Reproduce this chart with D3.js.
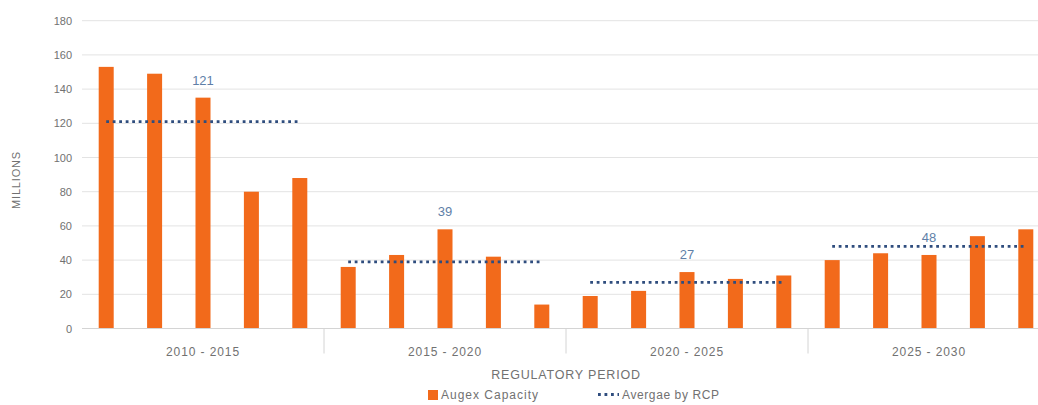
<!DOCTYPE html>
<html>
<head>
<meta charset="utf-8">
<script src="https://cdn.jsdelivr.net/npm/d3@7"></script>
<style>
  html, body { margin: 0; padding: 0; background: #ffffff; }
  svg { display: block; font-family: "Liberation Sans", "DejaVu Sans", sans-serif; }
</style>
</head>
<body>
<svg id="chart" width="1038" height="405"></svg>
<script>
// Regulatory periods (x categories)
const periods = ["2010 - 2015", "2015 - 2020", "2020 - 2025", "2025 - 2030"];
// Augex capacity, five bars per period (millions)
const augexCapacity = [
  [153, 149, 135, 80, 88],
  [36, 43, 58, 42, 14],
  [19, 22, 33, 29, 31],
  [40, 44, 43, 54, 58]
];
// Average by regulatory control period (millions)
const averageByRcp = [121, 39, 27, 48];
// Y axis ticks
const yTicks = [0, 20, 40, 60, 80, 100, 120, 140, 160, 180];

const svg = d3.select("#chart");
const plotLeft = 82, plotRight = 1050, plotTop = 20.7, plotBottom = 328.5;

const x0 = d3.scaleBand().domain(periods).range([plotLeft, plotRight]).padding(0);
const x1 = d3.scaleBand().domain(d3.range(5)).range([0, x0.bandwidth()]).paddingInner(0.69).paddingOuter(0.345);
const y = d3.scaleLinear().domain([0, 180]).range([plotBottom, plotTop]);

const orange = "#f26a1b";
const navy = "#2f4d7e";
const textGrey = "#717171";

// Horizontal gridlines
svg.append("g")
  .selectAll("line")
  .data(yTicks.filter(d => d > 0))
  .join("line")
  .attr("x1", plotLeft).attr("x2", plotRight)
  .attr("y1", d => y(d)).attr("y2", d => y(d))
  .attr("stroke", "#e3e3e3").attr("stroke-width", 1);

// Y axis labels
const yAxis = d3.axisLeft(y).tickValues(yTicks).tickSize(0).tickPadding(10);
const gy = svg.append("g").attr("transform", `translate(${plotLeft},0)`).call(yAxis);
gy.select(".domain").remove();
gy.selectAll("text")
  .attr("fill", textGrey)
  .style("font-size", "11px")
  .style("font-family", "'Liberation Sans', sans-serif");

// Bars
const groups = svg.append("g")
  .selectAll("g")
  .data(periods)
  .join("g")
  .attr("transform", d => `translate(${x0(d)},0)`);

groups.selectAll("rect")
  .data((d, i) => augexCapacity[i].map((v, j) => ({ j, v })))
  .join("rect")
  .attr("x", d => x1(d.j))
  .attr("width", x1.bandwidth())
  .attr("y", d => y(d.v))
  .attr("height", d => y(0) - y(d.v))
  .attr("fill", orange);

// Average lines spanning the bars of each period
groups.append("line")
  .attr("x1", x1(0) + x1.bandwidth() / 2)
  .attr("x2", x1(4) + x1.bandwidth() / 2)
  .attr("y1", (d, i) => y(averageByRcp[i]))
  .attr("y2", (d, i) => y(averageByRcp[i]))
  .attr("stroke", navy)
  .attr("stroke-width", 2.8)
  .attr("stroke-dasharray", "2.8 3.7");

// Average value labels, above the middle bar
groups.append("text")
  .attr("x", x1(2) + x1.bandwidth() / 2)
  .attr("y", (d, i) => y(augexCapacity[i][2]) - 13)
  .attr("text-anchor", "middle")
  .attr("fill", "#5f7fa8")
  .style("font-size", "13px")
  .text((d, i) => averageByRcp[i]);

// X axis baseline
svg.append("line")
  .attr("x1", plotLeft).attr("x2", plotRight)
  .attr("y1", plotBottom).attr("y2", plotBottom)
  .attr("stroke", "#d4d4d4").attr("stroke-width", 1);

// Period dividers
svg.append("g")
  .selectAll("line")
  .data(periods.slice(1))
  .join("line")
  .attr("x1", d => x0(d)).attr("x2", d => x0(d))
  .attr("y1", plotBottom).attr("y2", plotBottom + 25)
  .attr("stroke", "#d4d4d4").attr("stroke-width", 1);

// Period labels
svg.append("g")
  .selectAll("text")
  .data(periods)
  .join("text")
  .attr("x", d => x0(d) + x0.bandwidth() / 2)
  .attr("y", 356)
  .attr("text-anchor", "middle")
  .attr("fill", textGrey)
  .style("font-size", "12px")
  .style("letter-spacing", "0.9px")
  .text(d => d);

// Axis titles
svg.append("text")
  .attr("x", 566).attr("y", 379)
  .attr("text-anchor", "middle")
  .attr("fill", textGrey)
  .style("font-size", "12.5px")
  .style("letter-spacing", "0.8px")
  .text("REGULATORY PERIOD");

svg.append("text")
  .attr("transform", "translate(20,180) rotate(-90)")
  .attr("text-anchor", "middle")
  .attr("fill", textGrey)
  .style("font-size", "11px")
  .style("letter-spacing", "0.8px")
  .text("MILLIONS");

// Legend
const legend = svg.append("g");
legend.append("rect")
  .attr("x", 428).attr("y", 390).attr("width", 10).attr("height", 10)
  .attr("fill", orange);
legend.append("text")
  .attr("x", 441).attr("y", 399)
  .attr("fill", textGrey)
  .style("font-size", "12px")
  .style("letter-spacing", "1px")
  .text("Augex Capacity");
legend.append("line")
  .attr("x1", 598).attr("x2", 619)
  .attr("y1", 394.5).attr("y2", 394.5)
  .attr("stroke", navy).attr("stroke-width", 2.8)
  .attr("stroke-dasharray", "2.8 3.7");
legend.append("text")
  .attr("x", 622).attr("y", 399)
  .attr("fill", textGrey)
  .style("font-size", "12px")
  .style("letter-spacing", "0.6px")
  .text("Avergae by RCP");
</script>
</body>
</html>
